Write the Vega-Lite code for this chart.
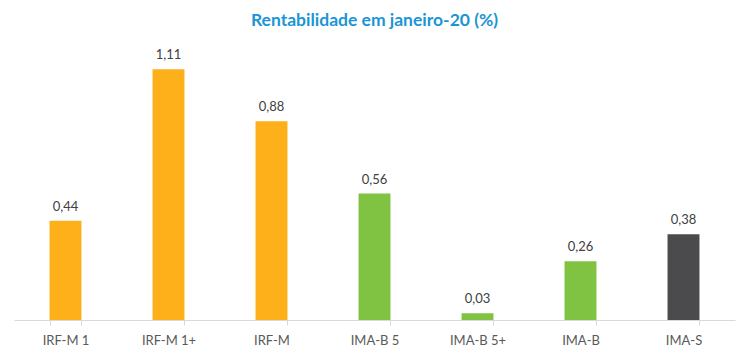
{
  "$schema": "https://vega.github.io/schema/vega-lite/v6.json",
  "width": 721,
  "height": 280,
  "autosize": {"type": "none"},
  "padding": {"left": 14, "top": 40, "right": 15, "bottom": 37},
  "background": "white",
  "title": {
    "text": "Rentabilidade em janeiro-20 (%)",
    "font": "Lato",
    "fontSize": 17.5,
    "fontWeight": "bold",
    "color": "#1B95D5",
    "offset": 11,
    "anchor": "middle"
  },
  "config": {
    "view": {"stroke": null},
    "locale": {"number": {"decimal": ",", "thousands": ".", "grouping": [3], "currency": ["R$", ""]}}
  },
  "data": {
    "values": [
      {"indice": "IRF-M 1", "valor": 0.44, "grupo": "IRF"},
      {"indice": "IRF-M 1+", "valor": 1.11, "grupo": "IRF"},
      {"indice": "IRF-M", "valor": 0.88, "grupo": "IRF"},
      {"indice": "IMA-B 5", "valor": 0.56, "grupo": "IMAB"},
      {"indice": "IMA-B 5+", "valor": 0.03, "grupo": "IMAB"},
      {"indice": "IMA-B", "valor": 0.26, "grupo": "IMAB"},
      {"indice": "IMA-S", "valor": 0.38, "grupo": "IMAS"}
    ]
  },
  "encoding": {
    "x": {
      "field": "indice",
      "type": "nominal",
      "sort": null,
      "scale": {"paddingInner": 0.69, "paddingOuter": 0.345},
      "axis": {
        "title": null,
        "labelAngle": 0,
        "labelFont": "Lato",
        "labelFontSize": 13,
        "labelColor": "#595959",
        "labelPadding": 9,
        "domainColor": "#D9D9D9",
        "tickColor": "#D9D9D9",
        "tickSize": 5,
        "tickBand": "extent"
      }
    },
    "y": {
      "field": "valor",
      "type": "quantitative",
      "scale": {"domain": [0, 1.24]},
      "axis": null
    }
  },
  "layer": [
    {
      "mark": {"type": "bar"},
      "encoding": {
        "color": {
          "field": "grupo",
          "type": "nominal",
          "scale": {"domain": ["IRF", "IMAB", "IMAS"], "range": ["#FDB019", "#80C342", "#4B4B4D"]},
          "legend": null
        }
      }
    },
    {
      "mark": {"type": "text", "baseline": "bottom", "dy": -7, "font": "Lato", "fontSize": 13, "color": "#404040"},
      "encoding": {
        "text": {"field": "valor", "type": "quantitative", "format": ".2f"}
      }
    }
  ]
}
